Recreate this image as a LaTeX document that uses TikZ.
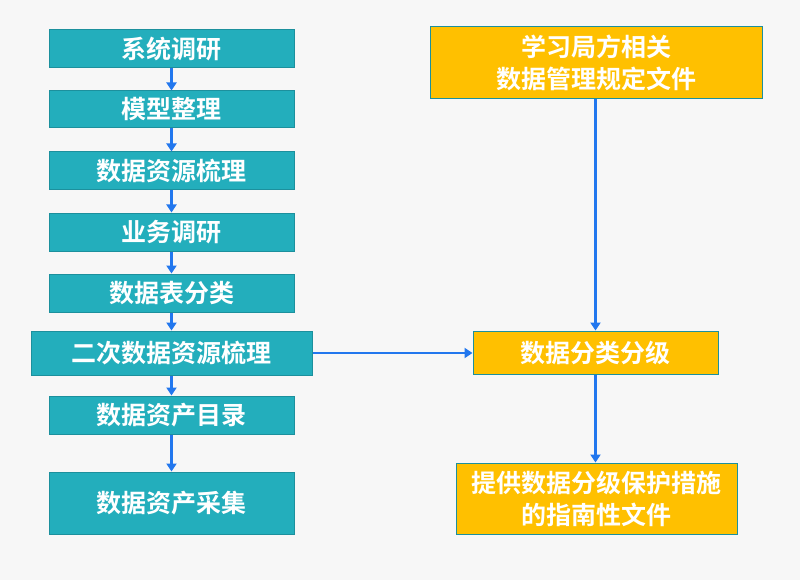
\documentclass[tikz,border=0pt]{standalone}
\usepackage{fontspec}
\setmainfont{Noto Sans CJK SC Bold}
\usetikzlibrary{arrows.meta}
\definecolor{bg}{HTML}{F7F7F7}
\definecolor{tealfill}{HTML}{23AEBC}
\definecolor{tealline}{HTML}{1C909D}
\definecolor{gold}{HTML}{FFC000}
\definecolor{arrowblue}{HTML}{2277EE}
\tikzset{
  box/.style={draw=tealline, line width=1pt, text=white, font=\fontsize{25}{32}\selectfont, inner sep=0pt, align=center},
  tbox/.style={box, fill=tealfill},
  ybox/.style={box, fill=gold},
  arr/.style={draw=arrowblue, line width=2.4pt, -{Triangle[length=8pt,width=10pt]}}
}
\newcommand{\bx}[7]{% name, style, x1, y1, x2, y2, text
  \node[#2, minimum width=#5pt-#3pt, minimum height=#6pt-#4pt] (#1) at ({(#3+#5)/2*1pt},{-(#4+#6)/2*1pt}) {#7};}
\begin{document}
\begin{tikzpicture}[x=1pt,y=1pt]
\fill[bg] (0,0) rectangle (800,-580);
\useasboundingbox (0,0) rectangle (800,-580);
\bx{a}{tbox}{49}{30}{294}{68}{系统调研}
\bx{b}{tbox}{49}{91}{294}{128}{模型整理}
\bx{c}{tbox}{49}{152}{294}{190}{数据资源梳理}
\bx{d}{tbox}{49}{213}{294}{251}{业务调研}
\bx{e}{tbox}{49}{274}{294}{312}{数据表分类}
\bx{f}{tbox}{31}{331}{312}{375}{二次数据资源梳理}
\bx{g}{tbox}{49}{396}{294}{434}{数据资产目录}
\bx{h}{tbox}{49}{472}{294}{534}{数据资产采集}
\bx{r1}{ybox}{430}{27}{762}{99}{学习局方相关\\数据管理规定文件}
\bx{r2}{ybox}{473}{331}{718}{374}{数据分类分级}
\bx{r3}{ybox}{456}{463}{737}{534}{提供数据分级保护措施\\的指南性文件}
\draw[arr] (a) -- (b);
\draw[arr] (b) -- (c);
\draw[arr] (c) -- (d);
\draw[arr] (d) -- (e);
\draw[arr] (e) -- (f);
\draw[arr] (f) -- (g);
\draw[arr] (g) -- (h);
\draw[arr] (f.east) -- (f.east -| r2.west);
\draw[arr] (r1.south -| r2.north) -- (r2.north);
\draw[arr] (r2) -- (r2 |- r3.north);
\end{tikzpicture}
\end{document}
